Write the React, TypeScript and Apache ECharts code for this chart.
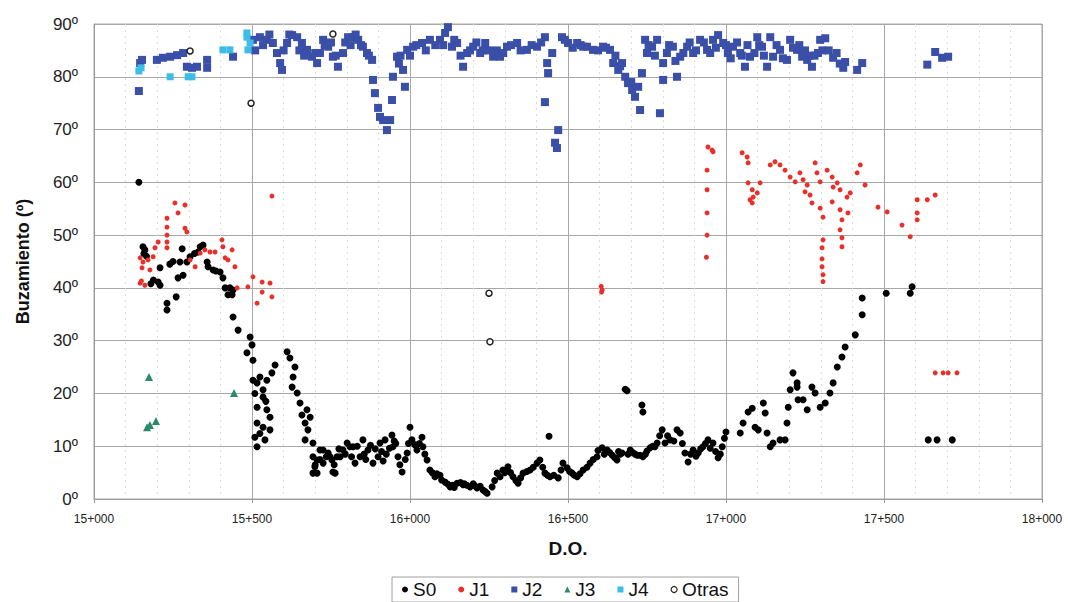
import React, { useEffect, useRef } from "react";
import * as echarts from "echarts";

const xTicks = [15000, 15500, 16000, 16500, 17000, 17500, 18000];
const yTicks = [0, 10, 20, 30, 40, 50, 60, 70, 80, 90];

const s0: number[][] = [
  [15142, 60], [15155, 47.8], [15161, 47.2], [15158, 46.5], [15209, 43.8], [15203, 41.1], [15209, 40.5], [15180, 40.8],
  [15231, 37.1], [15231, 35.8], [15260, 38.3], [15266, 41.9], [15282, 42.4], [15272, 44.9], [15279, 47.4],
  [15304, 45.9], [15294, 44.9], [15336, 47.8], [15345, 48.1], [15329, 46.8], [15358, 44.9], [15361, 44],
  [15377, 43.4], [15399, 43], [15408, 41.9], [15415, 40], [15424, 38.7], [15437, 38.7], [15440, 39.6],
  [15440, 34.5], [15456, 32], [15494, 30.7], [15500, 29.2], [15484, 27.7], [15503, 26.3],
  [15503, 22.5], [15516, 22], [15525, 23.1], [15509, 20], [15535, 19.3], [15516, 17.4], [15547, 16.9],
  [15516, 14.4], [15535, 13.6], [15509, 11.7], [15516, 9.9], [15541, 11.2], [15557, 13.1], [15557, 15.5],
  [15547, 22.5], [15563, 23.9], [15573, 25.4], [15535, 20.7], [15525, 12.4], [15544, 18.5],
  [15611, 27.9], [15620, 26.7], [15636, 25], [15630, 23.1], [15627, 21.2], [15643, 20.1], [15652, 18.2],
  [15658, 15.9], [15674, 16.9], [15668, 14.4], [15684, 15.5], [15677, 13.1], [15668, 11.2], [15693, 10.6],
  [15693, 8], [15699, 6.1], [15706, 4.9], [15715, 9.3], [15725, 6.8], [15741, 8.7], [15753, 7.4],
  [15756, 5.1], [15769, 8], [15788, 9.3], [15801, 10.6], [15820, 9.9], [15693, 4.9], [15706, 7.4],
  [15725, 9.3], [15747, 8], [15763, 4.9], [15779, 8], [15810, 9.9], [15826, 6.8], [15842, 8],
  [15851, 11.2], [15867, 9.3], [15883, 6.8], [15899, 8], [15905, 10.6], [15921, 11.2], [15943, 12.1],
  [15946, 9.9], [15962, 8], [15975, 5.1], [15991, 8.7], [16000, 13.6], [16006, 11.2], [16022, 9.3],
  [16038, 11.7], [16041, 9.9], [16054, 7.4], [16063, 5.5], [16079, 4.2], [16095, 4.5], [16111, 3.2],
  [16127, 2.3], [16149, 3], [16168, 2.7], [16190, 2.3], [16212, 2.1], [16231, 1.7], [16244, 1.1],
  [16260, 2.3], [16276, 4.9], [16294, 5.5], [16310, 6.1], [15855, 8.5], [15875, 10.2], [15915, 7.2],
  [15935, 9.6], [15955, 10.5], [15985, 7.5], [16015, 10.3], [16070, 5], [16120, 2.8], [16140, 2.2],
  [16160, 3.1], [16180, 2.6], [16200, 2.9], [16222, 2.4],
  [16285, 4.2], [16307, 5.5], [16326, 4.2], [16342, 3], [16358, 4.9], [16380, 5.5], [16402, 6.8],
  [16411, 7.4], [16427, 4.9], [16443, 4.2], [16440, 11.9], [16469, 4], [16484, 6.8], [16497, 5.9],
  [16513, 4.9], [16529, 4.2], [16548, 5.5], [16570, 6.8], [16592, 8], [16608, 9.7], [16624, 9.3],
  [16640, 8.3], [16655, 7.4], [16671, 8.7], [16681, 20.8], [16687, 20.5], [16734, 17.8], [16737, 16.5],
  [16697, 9.3], [16719, 8.3], [16737, 8], [16760, 9.7], [16782, 10.6], [16798, 13.1], [16807, 10.6],
  [16823, 11.2], [16845, 13.1], [16855, 12.5], [16870, 8.7], [16880, 7], [16896, 9.3], [16912, 8.7],
  [16927, 9.9], [16943, 11.2], [16959, 10.6], [16975, 7.8], [16988, 9.9], [17000, 12.7],
  [17045, 12.5], [17054, 14.4], [17070, 16.5], [17083, 17.2], [17092, 13.6], [17102, 13.1],
  [17118, 18.2], [17124, 16.3], [17130, 12.5], [17140, 9.9], [17149, 10.6], [17171, 11.2],
  [17187, 11.2], [17193, 14.4], [17197, 17.4], [17203, 20.7], [17212, 23.9], [17225, 21.2],
  [17228, 18.8], [17225, 22], [17257, 16.9], [17244, 18.8], [17272, 21.2], [17282, 20.1],
  [17298, 17.4], [17314, 18.2], [17329, 20.1], [17339, 22], [17352, 25], [17367, 26.9], [17377, 28.8],
  [17409, 31.1], [17431, 34.9], [17431, 38.1], [17507, 39], [17583, 39], [17589, 40.2],
  [17640, 11.2], [17668, 11.2], [17716, 11.2], [16595, 9.2], [16615, 8.5], [16660, 9], [16705, 8.8],
  [16750, 9.1], [16775, 9.9], [16815, 12], [16835, 11], [16905, 8.1], [16950, 9.6], [16995, 11.5],
  [15700, 6.5], [15715, 7.5], [15735, 8], [15760, 6.5], [15775, 9.5], [15795, 8.5], [15815, 8],
  [15833, 10], [15860, 7.5], [15890, 9.5], [15910, 9], [15925, 8.5], [15950, 11], [15968, 6.5],
  [15995, 10.5], [16030, 10.5], [16047, 8.5], [16085, 4.8], [16100, 3.6], [16135, 2.6], [16172, 2.9],
  [16205, 2.5], [16238, 1.4], [16268, 3.5], [16300, 5], [16318, 5], [16335, 3.5], [16350, 4],
  [16370, 5.2], [16390, 6], [16420, 6], [16435, 4.5], [16455, 4.5], [16478, 5.5], [16505, 5.2],
  [16520, 4.5], [16538, 4.8], [16560, 6], [16580, 7.5], [16632, 8.8], [16648, 7.8], [16665, 8.5],
  [16690, 8.5], [16712, 8.5], [16728, 8.3], [16745, 8.5], [16768, 10], [16790, 12], [16862, 10.5],
  [16888, 8.5], [16920, 9.5], [16935, 10.5], [16967, 9], [16982, 8.5], [15166, 46], [15188, 41.5],
  [15240, 44.5], [15250, 45], [15318, 46.5], [15386, 43.2], [15430, 40]
];

const j1: number[][] = [
  [15256, 56.1], [15288, 55.7], [15266, 54.2], [15231, 53.2], [15231, 51.5], [15288, 51.3], [15294, 50.6],
  [15231, 50], [15203, 48.7], [15231, 48.7], [15231, 47.6], [15193, 47.6], [15187, 45.9], [15146, 45.7],
  [15155, 44.9], [15171, 45.3], [15152, 43.8], [15177, 43.4], [15146, 40.9], [15161, 40.5], [15150, 41.3],
  [15304, 45.3], [15320, 44], [15336, 46.6], [15351, 47.2], [15367, 46.8], [15383, 46.8], [15405, 49.1],
  [15408, 47.8], [15437, 47.2], [15415, 45.7], [15424, 45.3], [15446, 44], [15453, 40], [15487, 40.2],
  [15503, 42.1], [15532, 41.1], [15557, 40.9], [15516, 37.1], [15532, 39.2], [15563, 38.3], [15563, 57.4],
  [16608, 39.6], [16605, 40.3], [16606, 39.2],
  [16940, 62.3], [16940, 58.6], [16940, 54.2], [16940, 50], [16938, 45.8], [16943, 66.7], [16956, 66.1],
  [16959, 65.8], [17051, 65.6], [17067, 64.8], [17070, 63.7], [17070, 59.9], [17083, 58.6], [17086, 57.2],
  [17083, 56.1], [17099, 58], [17108, 59.9], [17076, 56.7], [17140, 63.3], [17155, 63.9], [17171, 63.3],
  [17187, 62.3], [17203, 61], [17219, 60.1], [17234, 61.8], [17244, 60.5], [17257, 59.5], [17250, 58.2],
  [17266, 57.6], [17282, 63.7], [17288, 61.8], [17298, 60.1], [17320, 62.3], [17336, 61], [17339, 59.1],
  [17352, 59.9], [17361, 58.6], [17383, 57.2], [17393, 58], [17415, 61.8], [17425, 63.3], [17440, 59.5],
  [17272, 56.1], [17298, 55.1], [17307, 53.4], [17336, 56.3], [17361, 54.8], [17367, 52.9], [17386, 54.2],
  [17361, 51], [17367, 49.5], [17367, 47.8], [17307, 49.1], [17304, 47.6], [17304, 45.5], [17304, 44],
  [17307, 42.5], [17307, 41.2], [17481, 55.3], [17510, 54.4], [17557, 51.9], [17583, 49.7], [17605, 54.2],
  [17605, 52.9], [17605, 56.7], [17637, 56.7], [17662, 57.6],
  [17662, 23.9], [17687, 23.9], [17703, 23.9], [17731, 23.9]
];

const j2: number[][] = [
  [15142, 77.3], [15146, 82.6], [15152, 83.2], [15199, 83.2], [15218, 83.6], [15241, 83.8], [15263, 84.1],
  [15282, 84.5], [15294, 81.9], [15310, 81.7], [15326, 81.9], [15358, 83.2], [15358, 81.7], [15440, 83.8],
  [15503, 87], [15525, 87.5], [15547, 87], [15566, 86.4], [15579, 84.5], [15589, 82.6], [15595, 81.3],
  [15611, 86.4], [15627, 87.9], [15643, 87.5], [15658, 86.4], [15674, 85.1], [15690, 83.8], [15706, 82.6],
  [15715, 84.5], [15725, 87], [15741, 85.7], [15756, 83.8], [15772, 81.9], [15788, 84.5], [15804, 87.5],
  [15820, 87.5], [15836, 87], [15851, 85.7], [15864, 84.5], [15880, 83.2], [15883, 79.4], [15889, 76.9],
  [15899, 74.1], [15905, 72.4], [15915, 71.8], [15927, 69.9], [15937, 71.8], [15943, 75.6], [15946, 80],
  [15959, 83.8], [15978, 81.3], [15984, 78.1], [15991, 85.1], [16010, 85.7], [16038, 86.4], [16063, 87],
  [16095, 87], [16111, 88.3], [16120, 89.4], [16133, 85.7], [16149, 86.4], [16168, 81.9], [16181, 84.5],
  [16200, 85.7], [16222, 84.5], [16238, 86.4], [16263, 83.8], [16285, 83.8], [16307, 85.7], [16339, 86.4],
  [16370, 85.1], [16402, 85.7], [16427, 87.5], [16434, 82.6], [16437, 80.7], [16427, 75.2], [16450, 84.5],
  [16469, 69.9], [16459, 67.5], [16465, 66.5], [16481, 87.5], [16500, 86.4], [16529, 86.4], [16560, 85.7],
  [16548, 85.7], [16579, 85.1], [16611, 85.7], [16633, 85.1], [16643, 82.6], [16659, 81.3], [16671, 82.6],
  [16681, 80], [16690, 78.8], [16703, 77.5], [16712, 76.2], [16722, 78.1], [16728, 73.7], [16734, 80.7],
  [16744, 87], [16750, 84.5], [16766, 85.7], [16782, 87], [16791, 73.1], [16801, 82.6], [16801, 79.4],
  [16813, 84.5], [16832, 85.7], [16845, 80], [16855, 83.8], [16877, 85.7], [16896, 84.5], [16918, 87],
  [16940, 85.1], [16959, 87], [16975, 87.9], [16991, 86.4], [17006, 84.5], [17022, 85.7], [17045, 84.5],
  [17060, 81.9], [17076, 83.8], [17099, 87.5], [17114, 85.7], [17130, 81.9], [17140, 87.5], [17149, 83.8],
  [17171, 85.1], [17193, 83.2], [17203, 87], [17225, 85.1], [17241, 83.8], [17257, 83.2], [17272, 81.9],
  [17291, 84.5], [17298, 87], [17314, 87.3], [17339, 83.6], [17371, 81.7], [17377, 82.8], [17415, 81.3],
  [17431, 82.6], [17637, 82.3], [17662, 84.7], [17684, 83.6], [17703, 83.8],
  [15510, 85], [15535, 86], [15555, 88], [15600, 85], [15618, 88], [15650, 85], [15665, 84],
  [15700, 84.5], [15730, 86], [15750, 86.5], [15765, 84], [15795, 86.5], [15812, 86], [15828, 88],
  [15845, 86], [15870, 84], [15965, 82.5], [15970, 84], [16000, 84], [16020, 86], [16050, 85],
  [16080, 86], [16105, 86], [16140, 87], [16160, 84], [16190, 85], [16210, 86.5], [16230, 85],
  [16250, 85], [16275, 85], [16295, 84.5], [16320, 86], [16350, 85], [16385, 86], [16415, 86.5],
  [16490, 87], [16515, 85.5], [16540, 86], [16595, 85], [16620, 85.5], [16650, 84], [16665, 82],
  [16700, 79], [16755, 86], [16775, 84], [16820, 86], [16840, 83], [16865, 84.5], [16885, 86.5],
  [16905, 85], [16930, 86.5], [16950, 84.5], [16968, 85.5], [17000, 86], [17015, 83.5], [17035, 86.5],
  [17050, 84], [17068, 86], [17090, 84.5], [17105, 86], [17120, 84], [17160, 86], [17180, 83.5],
  [17212, 85.5], [17232, 86], [17250, 85], [17265, 84], [17280, 84], [17305, 85], [17325, 85],
  [17350, 84.5], [17360, 82.5]
];

const j3: number[][] = [[15174, 23.1], [15168, 13.6], [15177, 14], [15196, 14.8], [15443, 20.1]];

const j4: number[][] = [
  [15142, 81.1], [15149, 81.7], [15241, 80], [15298, 80], [15310, 80], [15408, 85.1], [15430, 85.1],
  [15484, 88.3], [15487, 85.1], [15494, 86.4], [15484, 87.5]
];

const otras: number[][] = [[15304, 84.9], [15497, 75], [15756, 88.1], [16250, 39], [16253, 29.8]];

const fmtX = (v: number) => Math.floor(v / 1000) + "+" + String(v % 1000).padStart(3, "0");

export default function App() {
  const ref = useRef<HTMLDivElement>(null);
  useEffect(() => {
    const chart = echarts.init(ref.current!, null, { renderer: "svg" });
    const font = "Liberation Sans";
    chart.setOption({
      animation: false,
      backgroundColor: "#ffffff",
      textStyle: { fontFamily: font },
      grid: { left: 94, right: 26, top: 24, bottom: 103, show: true, borderColor: "#a8a8a8", borderWidth: 1 },
      legend: {
        bottom: 0,
        left: 392,
        orient: "horizontal",
        borderColor: "#a0a0a0",
        borderWidth: 1,
        padding: [3, 10, 3, 10],
        itemGap: 22,
        itemWidth: 6,
        itemHeight: 6,
        textStyle: { fontSize: 19, color: "#111", fontFamily: font },
        data: [
          { name: "S0", icon: "circle", itemStyle: { color: "#000" } },
          { name: "J1", icon: "circle", itemStyle: { color: "#e8302a" } },
          { name: "J2", icon: "rect", itemStyle: { color: "#3a4fa8" } },
          { name: "J3", icon: "triangle", itemStyle: { color: "#2a8a6a" } },
          { name: "J4", icon: "rect", itemStyle: { color: "#3cbde6" } },
          { name: "Otras", icon: "circle", itemStyle: { color: "#fff", borderColor: "#222", borderWidth: 1.2 } }
        ]
      },
      xAxis: {
        type: "value",
        min: xTicks[0],
        max: xTicks[xTicks.length - 1],
        interval: 500,
        name: "D.O.",
        nameLocation: "middle",
        nameGap: 40,
        nameTextStyle: { fontSize: 19, fontWeight: "bold", color: "#111", fontFamily: font },
        axisLine: { lineStyle: { color: "#9a9a9a" } },
        axisTick: { show: true, length: 4, lineStyle: { color: "#9a9a9a" } },
        axisLabel: { formatter: fmtX, fontSize: 12, color: "#222", margin: 14, fontFamily: font },
        splitLine: { show: true, lineStyle: { color: "#a8a8a8", width: 1 } },
        minorTick: { show: false, splitNumber: 5 },
        minorSplitLine: { show: true, lineStyle: { color: "#dcdcdc", type: [2, 4], width: 1 } }
      },
      yAxis: {
        type: "value",
        min: yTicks[0],
        max: yTicks[yTicks.length - 1],
        interval: 10,
        name: "Buzamiento (º)",
        nameLocation: "middle",
        nameGap: 62,
        nameRotate: 90,
        nameTextStyle: { fontSize: 18, fontWeight: "bold", color: "#111", fontFamily: font },
        axisLine: { show: true, lineStyle: { color: "#9a9a9a" } },
        axisTick: { show: false },
        axisLabel: { formatter: (v: number) => v + "º", fontSize: 17, color: "#222", margin: 16, fontFamily: font },
        splitLine: { show: true, lineStyle: { color: "#a8a8a8", width: 1 } }
      },
      series: [
        { name: "S0", type: "scatter", data: s0, symbol: "circle", symbolSize: 7, itemStyle: { color: "#000", opacity: 1 } },
        { name: "J1", type: "scatter", data: j1, symbol: "circle", symbolSize: 5, itemStyle: { color: "#e8302a", opacity: 1 } },
        { name: "J2", type: "scatter", data: j2, symbol: "rect", symbolSize: 8, itemStyle: { color: "#3a4fa8", opacity: 1 } },
        { name: "J3", type: "scatter", data: j3, symbol: "triangle", symbolSize: 8, itemStyle: { color: "#2a8a6a", opacity: 1 } },
        { name: "J4", type: "scatter", data: j4, symbol: "rect", symbolSize: 7, itemStyle: { color: "#3cbde6", opacity: 1 } },
        { name: "Otras", type: "scatter", data: otras, symbol: "circle", symbolSize: 6, itemStyle: { color: "#fff", borderColor: "#222", borderWidth: 1.5, opacity: 1 } }
      ]
    });
    return () => chart.dispose();
  }, []);
  return <div ref={ref} style={{ position: "absolute", left: 0, top: 0, width: 1068, height: 602 }} />;
}
